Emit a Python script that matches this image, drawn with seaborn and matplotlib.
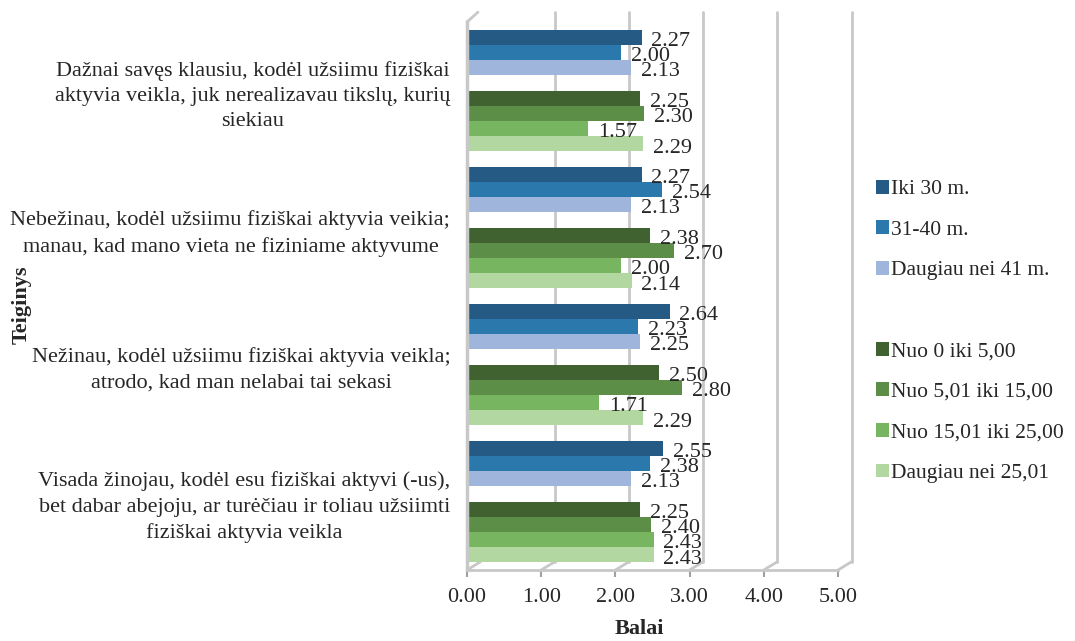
import pandas as pd
import matplotlib.pyplot as plt
import seaborn as sns
from matplotlib.patches import Patch

# Data

teiginiai = [
    "Dažnai savęs klausiu, kodėl užsiimu fiziškai\naktyvia veikla, juk nerealizavau tikslų, kurių\nsiekiau",
    "Nebežinau, kodėl užsiimu fiziškai aktyvia veikia;\nmanau, kad mano vieta ne fiziniame aktyvume",
    "Nežinau, kodėl užsiimu fiziškai aktyvia veikla;\natrodo, kad man nelabai tai sekasi",
    "Visada žinojau, kodėl esu fiziškai aktyvi (-us),\nbet dabar abejoju, ar turėčiau ir toliau užsiimti\nfiziškai aktyvia veikla",
]

amzius = ["Iki 30 m.", "31-40 m.", "Daugiau nei 41 m."]
stazas = ["Nuo 0 iki 5,00", "Nuo 5,01 iki 15,00", "Nuo 15,01 iki 25,00", "Daugiau nei 25,01"]

# rows = teiginiai, columns = groups
amzius_vals = [
    [2.27, 2.00, 2.13],
    [2.27, 2.54, 2.13],
    [2.64, 2.23, 2.25],
    [2.55, 2.38, 2.13],
]
stazas_vals = [
    [2.25, 2.30, 1.57, 2.29],
    [2.38, 2.70, 2.00, 2.14],
    [2.50, 2.80, 1.71, 2.29],
    [2.25, 2.40, 2.43, 2.43],
]

spalvos = ["#245a84", "#2b79ac", "#9fb5dc",
           "#3f6230", "#5c8e48", "#78b560", "#b2d7a1"]

# long format table

rows = []
for i, t in enumerate(teiginiai):
    for g, v in zip(amzius, amzius_vals[i]):
        rows.append({"Teiginys": t, "Grupe": g, "Balai": v})
    for g, v in zip(stazas, stazas_vals[i]):
        rows.append({"Teiginys": t, "Grupe": g, "Balai": v})
df = pd.DataFrame(rows)

# empty level keeps a gap between the two group blocks
hue_order = amzius + [" "] + stazas
palette = dict(zip(amzius + stazas, spalvos))
palette[" "] = "white"

sns.set_style("white")
plt.rcParams["font.family"] = ["Liberation Serif", "DejaVu Serif"]
plt.rcParams["font.size"] = 16

fig = plt.figure(figsize=(10.75, 6.41), dpi=100)
ax = fig.add_axes([465 / 1075, 71 / 641, 384 / 1075, 548 / 641])

wall = "#c8c8c8"
px = 1 / 76  # one pixel in data units along x

# back wall gridlines (3D look)
for k in range(1, 6):
    xb = (11.5 + 74.2 * k) * px
    ax.plot([xb, xb], [0.015, 1.018], transform=ax.get_xaxis_transform(),
            color=wall, lw=2, clip_on=False, zorder=0)
    xf = (74.2 * k - 2) * px
    ax.plot([xf, xb], [0, 0.015], transform=ax.get_xaxis_transform(),
            color=wall, lw=2, clip_on=False, zorder=0)
# floor diagonal at 0 and left wall top
ax.plot([-2 * px, 11.5 * px], [0, 0.015], transform=ax.get_xaxis_transform(),
        color=wall, lw=2, clip_on=False, zorder=0)
ax.plot([-2 * px, 9 * px], [1.0, 1.018], transform=ax.get_xaxis_transform(),
        color=wall, lw=2, clip_on=False, zorder=0)

sns.barplot(
    data=df, y="Teiginys", x="Balai", hue="Grupe",
    order=teiginiai, hue_order=hue_order, palette=palette,
    orient="h", width=0.89, saturation=1, errorbar=None,
    legend=False, linewidth=0, ax=ax, zorder=2
)

ax.set_xlim(-4 * px, 5)
ax.set_ylim(3.5, -0.5)

# value labels
for cont in ax.containers:
    for p in cont.patches:
        w = p.get_width()
        if w != w:
            continue
        ax.annotate(f"{w:.2f}", (w, p.get_y() + p.get_height() / 2),
                    xytext=(7, -3), textcoords="offset points",
                    va="center", ha="left", fontsize=16, zorder=3)

# axes styling
for s in ["top", "right"]:
    ax.spines[s].set_visible(False)
ax.spines["left"].set_color(wall)
ax.spines["left"].set_linewidth(2.5)
ax.spines["left"].set_position(("data", -2 * px))
ax.spines["bottom"].set_color(wall)
ax.spines["bottom"].set_linewidth(2)
ax.spines["bottom"].set_bounds(-2 * px, (74.2 * 5 - 2) * px)

ax.set_xticks([])
ax.set_xlabel("")
ax.set_ylabel("")
ax.set_yticks([-0.5, 0.5, 1.5, 2.5, 3.5], minor=True)
ax.tick_params(axis="y", which="major", length=0, pad=12, labelsize=16)
ax.tick_params(axis="y", which="minor", length=5, width=1.5, color="#a0a0a0")
plt.setp(ax.get_yticklabels(), multialignment="center", linespacing=1.45)

# front floor scale for tick labels
front = ax.secondary_xaxis(
    "bottom",
    functions=(lambda x: (x / px + 2) / 74.2, lambda v: (74.2 * v - 2) * px)
)
front.set_xticks([0, 1, 2, 3, 4, 5])
front.set_xticklabels(["0.00", "1.00", "2.00", "3.00", "4.00", "5.00"])
front.tick_params(axis="x", length=5, width=1.5, color="#a0a0a0", pad=8, labelsize=16)
front.spines["bottom"].set_visible(False)

fig.text(0.595, 0.003, "Balai", ha="center", va="bottom", fontsize=16, fontweight="bold")
fig.text(0.011, 0.524, "Teiginys", ha="left", va="center", rotation=90,
         fontsize=16, fontweight="bold")

# legend
handles = []
for g in hue_order:
    if g == " ":
        handles.append(Patch(facecolor="none", edgecolor="none"))
    else:
        handles.append(Patch(facecolor=palette[g], edgecolor="none"))
fig.legend(handles, hue_order, loc="center left", bbox_to_anchor=(0.797, 0.483),
           frameon=False, fontsize=15.5, handlelength=0.6, handleheight=0.6,
           handletextpad=0.1, labelspacing=0.98)

plt.savefig("out.png", dpi=100)
